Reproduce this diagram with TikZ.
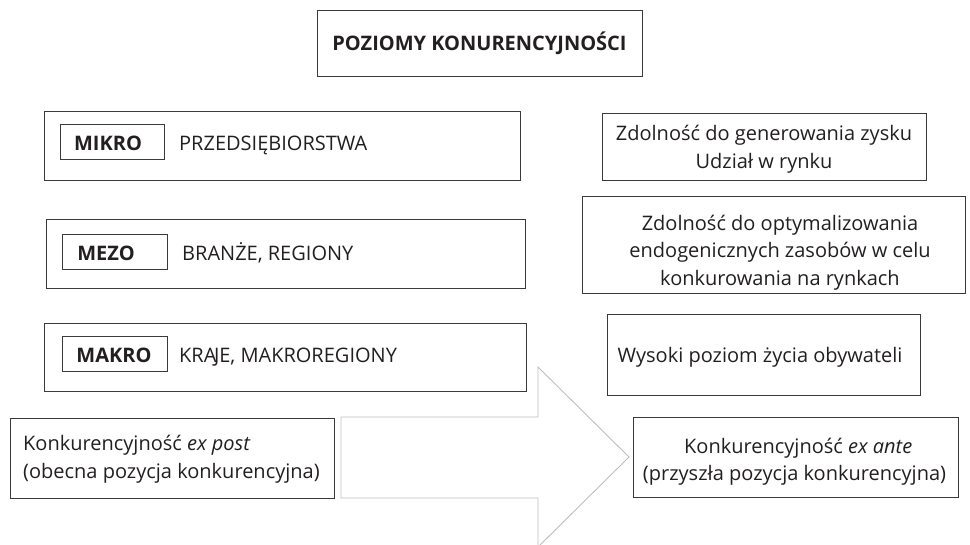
\documentclass[tikz,border=0pt]{standalone}
\usepackage{fontspec}
\setmainfont{Open Sans}
\definecolor{bordercol}{HTML}{3A3A3A}
\definecolor{arrowcol}{HTML}{BDBDBD}
\definecolor{txtcol}{HTML}{231F20}
\begin{document}
\begin{tikzpicture}[x=1pt,y=-1pt,
  box/.style={draw=bordercol,line width=1.1pt,inner sep=0pt,anchor=north west},
  txt/.style={font=\fontsize{20}{27.5}\selectfont,text=txtcol,inner sep=0pt,anchor=base},
  btxt/.style={font=\fontsize{20}{27.5}\selectfont\bfseries,text=txtcol,inner sep=0pt,anchor=base}]
\useasboundingbox (0,0) rectangle (970,544);
% title
\node[box,minimum width=325pt,minimum height=66pt] (title) at (317,10) {};
\node[btxt] (titletext) at (479.5,50) {POZIOMY KONURENCYJNOŚCI};
% MIKRO
\node[box,minimum width=476pt,minimum height=69pt] (mikro) at (44,111) {};
\node[box,minimum width=104pt,minimum height=35pt] (mikrolab) at (60,124) {};
\node[btxt] (mikrot) at (108,150) {MIKRO};
\node[txt,anchor=base west] (mikrod) at (179,150) {PRZEDSIĘBIORSTWA};
% MEZO
\node[box,minimum width=479pt,minimum height=69pt] (mezo) at (46,219) {};
\node[box,minimum width=105pt,minimum height=35pt] (mezolab) at (62,234) {};
\node[btxt] (mezot) at (106,260) {MEZO};
\node[txt,anchor=base west] (mezod) at (182,260) {BRANŻE, REGIONY};
% MAKRO
\node[box,minimum width=482pt,minimum height=68pt] (makro) at (44,323) {};
\node[box,minimum width=105pt,minimum height=35pt] (makrolab) at (62,336) {};
\node[btxt] (makrot) at (114,362) {MAKRO};
\node[txt,anchor=base west] (makrod) at (179,362) {KRA\kern-2.5pt JE, MAKROREGIONY};
% right column
\node[box,minimum width=324pt,minimum height=67pt] (r1) at (602,113) {};
\node[txt,align=center] (r1t) at (764,168) {Zdolność do generowania zysku\\Udział w rynku};
\node[box,minimum width=383pt,minimum height=97pt] (r2) at (582,196) {};
\node[txt,align=center] (r2t) at (780,285) {Zdolność do optymalizowania\\endogenicznych zasobów w celu\\konkurowania na rynkach};
\node[box,minimum width=313pt,minimum height=81pt] (r3) at (607,314) {};
\node[txt] (r3t) at (760,362) {Wysoki poziom życia obywateli};
% arrow
\draw[draw=arrowcol,line width=0.9pt] (341,417) -- (538,417) -- (538,367) -- (629,457) -- (538,547) -- (538,498) -- (341,498) -- cycle;
% ex post / ex ante
\node[box,minimum width=324pt,minimum height=80pt] (post) at (10,418) {};
\node[txt,anchor=base west] (postt1) at (23,450) {Konkurencyjność \textit{ex post}};
\node[txt,anchor=base west] (postt2) at (23,478) {(obecna pozycja konkurencyjna)};
\node[box,minimum width=325pt,minimum height=80pt] (ante) at (633,417) {};
\node[txt,anchor=base west] (antet1) at (684,453) {Konkurencyjność \textit{ex ante}};
\node[txt] (antet2) at (794.5,480) {(przyszła pozycja konkurencyjna)};
\end{tikzpicture}
\end{document}
